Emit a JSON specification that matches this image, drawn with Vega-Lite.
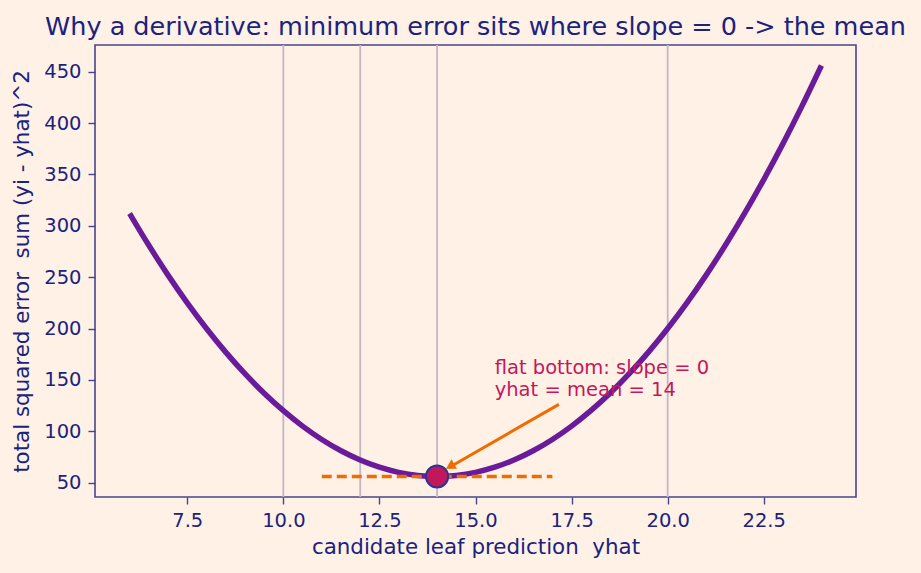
{
  "$schema": "https://vega.github.io/schema/vega-lite/v6.json",
  "autosize": {"type": "none"},
  "width": 761,
  "height": 452,
  "padding": {"left": 95, "top": 45, "right": 65, "bottom": 76},
  "background": "#fff1e6",
  "title": {
    "text": "Why a derivative: minimum error sits where slope = 0 -> the mean",
    "font": "DejaVu Sans",
    "fontSize": 25.5,
    "fontWeight": "normal",
    "color": "#1a237e",
    "anchor": "middle",
    "frame": "group",
    "baseline": "alphabetic",
    "offset": 11,
    "dy": 27
  },
  "config": {
    "view": {"stroke": "#46468c", "strokeWidth": 1.6},
    "axis": {
      "domain": false,
      "grid": false,
      "tickColor": "#46468c",
      "tickSize": 7,
      "tickWidth": 1.4,
      "labelFont": "DejaVu Sans",
      "labelFontSize": 19.5,
      "labelColor": "#1a237e",
      "labelPadding": 7,
      "titleFont": "DejaVu Sans",
      "titleFontSize": 21.4,
      "titleFontWeight": "normal",
      "titleColor": "#1a237e"
    }
  },
  "datasets": {
    "curve": [
      {"yhat": 6, "sse": 312}, {"yhat": 6.5, "sse": 281}, {"yhat": 7, "sse": 252}, {"yhat": 7.5, "sse": 225},
      {"yhat": 8, "sse": 200}, {"yhat": 8.5, "sse": 177}, {"yhat": 9, "sse": 156}, {"yhat": 9.5, "sse": 137},
      {"yhat": 10, "sse": 120}, {"yhat": 10.5, "sse": 105}, {"yhat": 11, "sse": 92}, {"yhat": 11.5, "sse": 81},
      {"yhat": 12, "sse": 72}, {"yhat": 12.5, "sse": 65}, {"yhat": 13, "sse": 60}, {"yhat": 13.5, "sse": 57},
      {"yhat": 14, "sse": 56}, {"yhat": 14.5, "sse": 57}, {"yhat": 15, "sse": 60}, {"yhat": 15.5, "sse": 65},
      {"yhat": 16, "sse": 72}, {"yhat": 16.5, "sse": 81}, {"yhat": 17, "sse": 92}, {"yhat": 17.5, "sse": 105},
      {"yhat": 18, "sse": 120}, {"yhat": 18.5, "sse": 137}, {"yhat": 19, "sse": 156}, {"yhat": 19.5, "sse": 177},
      {"yhat": 20, "sse": 200}, {"yhat": 20.5, "sse": 225}, {"yhat": 21, "sse": 252}, {"yhat": 21.5, "sse": 281},
      {"yhat": 22, "sse": 312}, {"yhat": 22.5, "sse": 345}, {"yhat": 23, "sse": 380}, {"yhat": 23.5, "sse": 417},
      {"yhat": 24, "sse": 456}
    ],
    "points": [{"yi": 10}, {"yi": 12}, {"yi": 14}, {"yi": 20}],
    "flat": [{"x": 11, "y": 56, "x2": 17}],
    "minimum": [{"x": 14, "y": 56}],
    "arrow": [{"x": 17.17, "y": 126.2, "x2": 14.3, "y2": 64.5}],
    "arrowhead": [{"x": 14.34, "y": 65.9}],
    "note": [
      {"x": 15.5, "y": 155.4, "label": "flat bottom: slope = 0"},
      {"x": 15.5, "y": 134.6, "label": "yhat = mean = 14"}
    ]
  },
  "layer": [
    {
      "data": {"name": "points"},
      "mark": {"type": "rule", "color": "#c4b5c8", "strokeWidth": 1.8},
      "encoding": {
        "x": {
          "field": "yi", "type": "quantitative",
          "scale": {"domain": [5.1, 24.9], "nice": false, "zero": false},
          "axis": {"values": [7.5, 10, 12.5, 15, 17.5, 20, 22.5], "format": ".1f", "title": "candidate leaf prediction\u00a0 yhat", "titlePadding": 7}
        }
      }
    },
    {
      "data": {"name": "curve"},
      "mark": {"type": "line", "color": "#6a1b9a", "strokeWidth": 5.5, "interpolate": "monotone"},
      "encoding": {
        "x": {"field": "yhat", "type": "quantitative"},
        "y": {
          "field": "sse", "type": "quantitative",
          "scale": {"domain": [36, 476], "nice": false, "zero": false},
          "axis": {"values": [50, 100, 150, 200, 250, 300, 350, 400, 450], "title": "total squared error\u00a0 sum (yi - yhat)^2", "titlePadding": 11}
        }
      }
    },
    {
      "data": {"name": "flat"},
      "mark": {"type": "rule", "color": "#ef6c00", "strokeWidth": 3.6, "strokeDash": [10, 5]},
      "encoding": {
        "x": {"field": "x", "type": "quantitative"},
        "x2": {"field": "x2"},
        "y": {"field": "y", "type": "quantitative"}
      }
    },
    {
      "data": {"name": "arrow"},
      "mark": {"type": "rule", "color": "#ef6c00", "strokeWidth": 3},
      "encoding": {
        "x": {"field": "x", "type": "quantitative"},
        "y": {"field": "y", "type": "quantitative"},
        "x2": {"field": "x2"},
        "y2": {"field": "y2"}
      }
    },
    {
      "data": {"name": "arrowhead"},
      "mark": {"type": "point", "shape": "triangle-up", "filled": true, "color": "#ef6c00", "size": 120, "angle": 240, "opacity": 1},
      "encoding": {
        "x": {"field": "x", "type": "quantitative"},
        "y": {"field": "y", "type": "quantitative"}
      }
    },
    {
      "data": {"name": "minimum"},
      "mark": {"type": "circle", "size": 490, "fill": "#c2185b", "stroke": "#283593", "strokeWidth": 2, "opacity": 1},
      "encoding": {
        "x": {"field": "x", "type": "quantitative"},
        "y": {"field": "y", "type": "quantitative"}
      }
    },
    {
      "data": {"name": "note"},
      "mark": {"type": "text", "align": "left", "baseline": "alphabetic", "font": "DejaVu Sans", "fontSize": 19.5, "color": "#c2185b"},
      "encoding": {
        "x": {"field": "x", "type": "quantitative"},
        "y": {"field": "y", "type": "quantitative"},
        "text": {"field": "label"}
      }
    }
  ]
}
